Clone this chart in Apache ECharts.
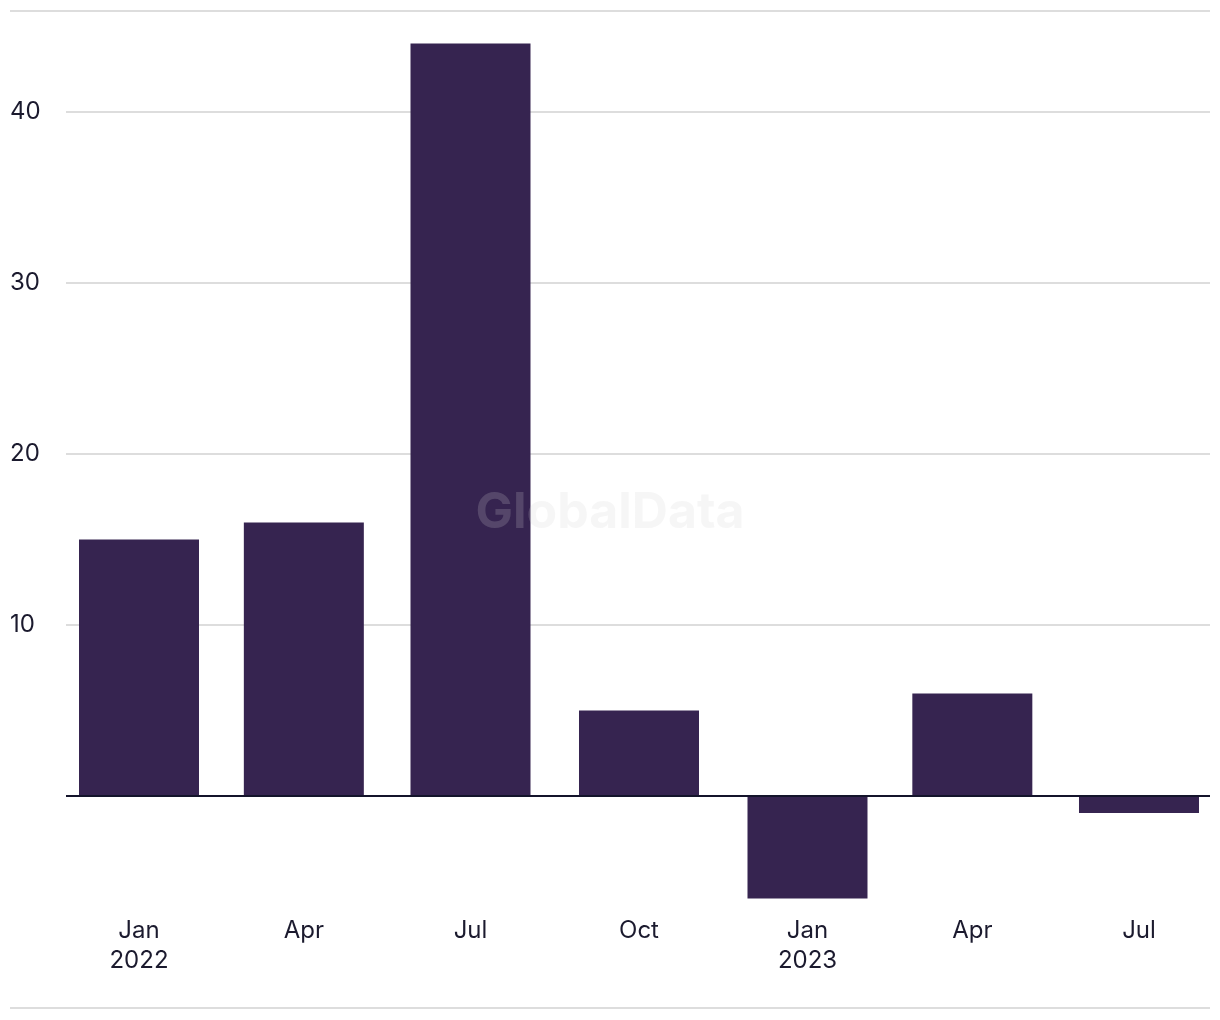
<!DOCTYPE html>
<html>
<head>
<meta charset="utf-8">
<script src="https://cdn.jsdelivr.net/npm/echarts@6/dist/echarts.min.js"></script>
<style>
  html, body { margin: 0; padding: 0; background: #fff; }
  #main { width: 1220px; height: 1020px; }
</style>
</head>
<body>
<div id="main"></div>
<script>
// quarterly values
const dates = ['2022-01-01', '2022-04-01', '2022-07-01', '2022-10-01', '2023-01-01', '2023-04-01', '2023-07-01'];
const values = [15, 16, 44, 5, -6, 6, -1];
const xLabels = ['Jan\n2022', 'Apr', 'Jul', 'Oct', 'Jan\n2023', 'Apr', 'Jul'];

const DAY = 86400000;
const times = dates.map(d => +echarts.time.parse(d));

const textColor = '#1b1a2e';
const font = 'Inter, "Noto Sans", sans-serif';

const chart = echarts.init(document.getElementById('main'));

chart.setOption({
    animation: false,
    grid: { left: 66, right: 10, top: 9.4, bottom: 1020 - 898.6, containLabel: false },
    xAxis: {
        // dates as timestamps on a value scale so the quarters keep their real spacing
        type: 'value',
        min: times[0] - 39.86 * DAY,
        max: times[times.length - 1] + 38.77 * DAY,
        axisLine: { show: false, onZero: false },
        axisTick: { show: false },
        splitLine: { show: false },
        axisLabel: {
            customValues: times,
            formatter: (v) => {
                const i = times.indexOf(v);
                return i >= 0 ? xLabels[i] : '';
            },
            color: textColor,
            fontFamily: font,
            fontSize: 24,
            lineHeight: 30,
            margin: 17,
            hideOverlap: false
        }
    },
    yAxis: {
        type: 'value',
        min: -6,
        max: 46,
        axisLine: { show: false },
        axisTick: { show: false },
        splitLine: {
            showMinLine: false,
            showMaxLine: false,
            lineStyle: { color: '#dddddd', width: 2 }
        },
        axisLabel: {
            showMinLabel: false,
            showMaxLabel: false,
            formatter: v => (v === 0 ? '' : v),
            align: 'left',
            margin: 56,
            color: textColor,
            fontFamily: font,
            fontSize: 24
        }
    },
    series: [{
        type: 'bar',
        data: times.map((t, i) => [t, values[i]]),
        barWidth: 120,
        itemStyle: { color: '#362450' },
        markLine: {
            silent: true,
            symbol: 'none',
            label: { show: false },
            lineStyle: { color: '#14142b', width: 2, type: 'solid' },
            data: [{ yAxis: 0 }]
        }
    }],
    graphic: [
        { type: 'rect', shape: { x: 10, y: 10, width: 1200, height: 2 }, style: { fill: '#dddddd' }, silent: true },
        { type: 'rect', shape: { x: 10, y: 1007, width: 1200, height: 2 }, style: { fill: '#dddddd' }, silent: true },
        {
            type: 'text', left: 'center', top: 488, z: 100, silent: true,
            style: {
                text: 'GlobalData',
                fill: 'rgba(209,209,212,0.2)',
                font: 'bold 50px Inter, "Noto Sans", sans-serif'
            }
        }
    ]
});
</script>
</body>
</html>
